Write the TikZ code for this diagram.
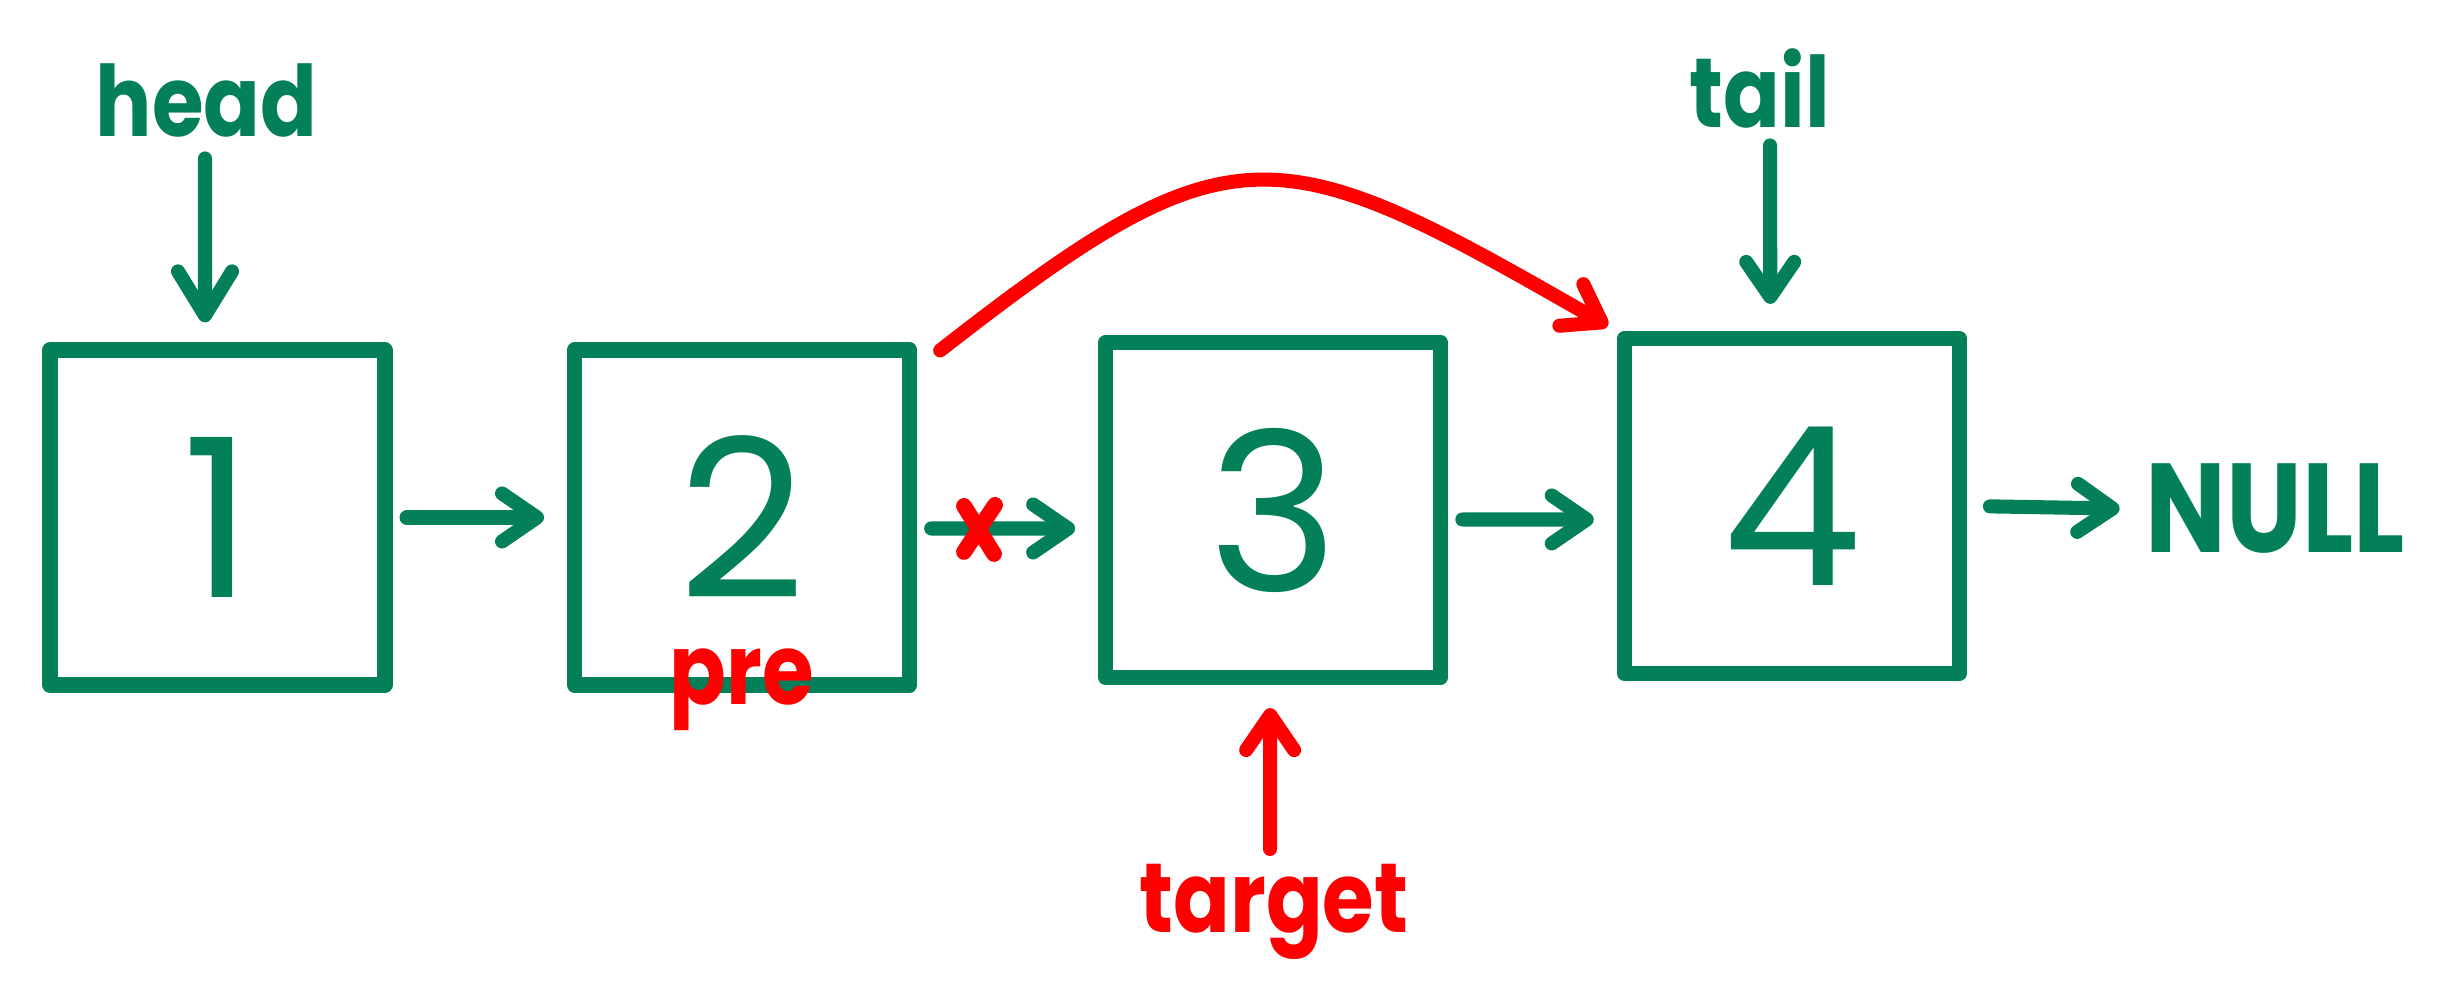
\documentclass[tikz,border=0pt]{standalone}
\usepackage{fontspec}
\setmainfont{Poppins}
\newfontfamily\handfont{Poppins}[FakeStretch=0.85]
\usetikzlibrary{arrows.meta,positioning}
\definecolor{lkgreen}{HTML}{03805A}
\definecolor{lkred}{HTML}{FF0000}

\begin{document}
\begin{tikzpicture}[node distance=1.75cm,box/.style={draw=lkgreen,line width=4.3pt,line join=round,minimum width=3.35cm,minimum height=3.35cm,text=lkgreen,font=\fontsize{63}{63}\selectfont},lbl/.style={inner sep=0pt,anchor=base,font=\handfont\bfseries\fontsize{28}{28}\selectfont},arr/.style={draw=lkgreen,line width=4pt,line cap=round,-{Straight Barb[length=3.5mm,width=4.8mm,round]}},redarr/.style={arr,draw=lkred},xmark/.style={draw=lkred,line width=4.5pt,line cap=round}]
\useasboundingbox (0,0) rectangle (24.62,10);
\node[box] (b1) at (2.175,4.825) {1};
\node[box,right=1.745cm of b1] (b2) {2};
\node[box,right=1.81cm of b2,yshift=0.75mm] (b3) {3};
\node[box,right=1.685cm of b3,yshift=0.4mm] (b4) {4};
\node[lbl,text=lkgreen] (head) at (2.065,8.63) {head};
\node[lbl,text=lkgreen] (tail) at (17.6,8.72) {tail};
\node[lbl,text=lkred] (target) at (12.74,0.67) {target};
\node[lbl,text=lkred] (pre) at (7.42,2.95) {pre};
\node[lbl,text=lkgreen,font=\handfont\bfseries\fontsize{36}{36}\selectfont] (null) at (22.75,4.47) {NULL};
\coordinate (cut) at (9.79,4.72);
% next pointers
\draw[arr,shorten <=1.4mm,shorten >=2.3mm](b1)--(b2);
\draw[arr,shorten <=1.4mm,shorten >=2.3mm]([yshift=-1.1mm]b2.east)--([yshift=-1.85mm]b3.west);
\draw[arr,shorten <=1.4mm,shorten >=2.3mm]([yshift=-0.95mm]b3.east)--([yshift=-1.35mm]b4.west);
\draw[arr,shorten <=2.3mm,shorten >=2.5mm](b4.east)--(null.west);
% head, tail, target
\draw[arr,-{Straight Barb[length=4.4mm,width=5.4mm,round]},shorten <=2mm,shorten >=2mm]([xshift=-0.15mm]head.south)--([xshift=-1.25mm]b1.north);
\draw[arr,shorten <=1.6mm,shorten >=2.7mm]([xshift=1mm]tail.south)--([xshift=-2.15mm]b4.north);
\draw[redarr,shorten <=1.5mm,shorten >=2.3mm]([xshift=-0.4mm]target.north)--([xshift=-0.3mm]b3.south);
% pre -> next skips target
\draw[redarr]([shift={(2.3mm,-0.8mm)}]b2.north east) .. controls (12.34,8.79) and (12.76,8.65) .. ([shift={(-0.9mm,0.5mm)}]b4.north west);
\draw[xmark]([shift={(-1.5mm,2.2mm)}]cut)--([shift={(1.5mm,-2.6mm)}]cut) ([shift={(1.6mm,2.3mm)}]cut)--([shift={(-1.5mm,-2.4mm)}]cut);
\end{tikzpicture}
\end{document}
